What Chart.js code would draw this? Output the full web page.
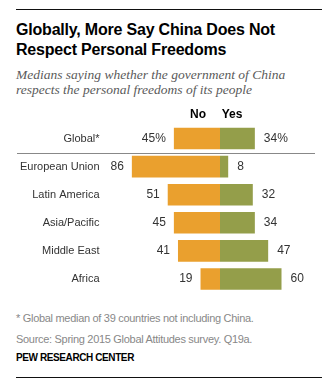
<!DOCTYPE html>
<html>
<head>
<meta charset="utf-8">
<script src="https://cdn.jsdelivr.net/npm/chart.js@4.4.1/dist/chart.umd.min.js"></script>
<style>
  body { margin: 0; background: #fff; }
  #wrap { position: relative; width: 336px; height: 388px; font-family: "Liberation Sans", Arial, sans-serif; color: #000; }
  .rule { position: absolute; left: 16px; width: 306px; height: 1px; background: #111; }
  #title { position: absolute; left: 16px; top: 20px; font-size: 16px; font-weight: bold; line-height: 20px; letter-spacing: -0.2px; }
  #subtitle { position: absolute; left: 16px; top: 68px; font-family: "Liberation Serif", serif; font-style: italic; font-size: 13.5px; line-height: 14.5px; color: #5a5a5a; }
  #chart { position: absolute; left: 0; top: 100px; }
  .note { position: absolute; left: 16px; font-size: 11px; color: #888; letter-spacing: -0.3px; }
  #credit { position: absolute; left: 16px; top: 352px; font-size: 10px; font-weight: bold; letter-spacing: -0.4px; }
</style>
</head>
<body>
<div id="wrap">
  <div class="rule" style="top:9px"></div>
  <div id="title">Globally, More Say China Does Not<br>Respect Personal Freedoms</div>
  <div id="subtitle">Medians saying whether the government of China<br>respects the personal freedoms of its people</div>
  <canvas id="chart" width="336" height="200"></canvas>
  <div class="note" style="top:312px">* Global median of 39 countries not including China.</div>
  <div class="note" style="top:333px">Source: Spring 2015 Global Attitudes survey. Q19a.</div>
  <div id="credit">PEW RESEARCH CENTER</div>
  <div class="rule" style="top:377px"></div>
</div>
<script>
const categories = ['Global*', 'European Union', 'Latin America', 'Asia/Pacific', 'Middle East', 'Africa'];
const noValues = [45, 86, 51, 45, 41, 19];
const yesValues = [34, 8, 32, 34, 47, 60];
const seriesNames = ['No', 'Yes'];

const orange = '#EAA02E';
const green = '#949E4A';

// numbers beside each bar, the No/Yes header and the rule under the global row
const barLabels = {
  id: 'barLabels',
  afterDatasetsDraw(chart) {
    const ctx = chart.ctx;
    const xs = chart.scales.x;
    const ys = chart.scales.y;
    ctx.save();
    ctx.textBaseline = 'middle';
    ctx.font = '12px "Liberation Sans"';
    ctx.fillStyle = '#333';
    chart.data.datasets.forEach((ds, di) => {
      const src = di === 0 ? noValues : yesValues;
      chart.getDatasetMeta(di).data.forEach((bar, i) => {
        const txt = src[i] + (i === 0 ? '%' : '');
        if (di === 0) {
          ctx.textAlign = 'right';
          ctx.fillText(txt, bar.x - 8, bar.y);
        } else {
          ctx.textAlign = 'left';
          ctx.fillText(txt, bar.x + 9, bar.y);
        }
      });
    });

    const zero = xs.getPixelForValue(0);
    ctx.font = 'bold 12px "Liberation Sans"';
    ctx.fillStyle = '#000';
    ctx.textAlign = 'center';
    ctx.fillText(seriesNames[0], zero - 22, 15);
    ctx.fillText(seriesNames[1], zero + 12, 15);

    const sep = Math.round((ys.getPixelForValue(0) + ys.getPixelForValue(1)) / 2) + 0.5;
    ctx.strokeStyle = '#888';
    ctx.lineWidth = 1;
    ctx.beginPath();
    ctx.moveTo(17, sep);
    ctx.lineTo(315, sep);
    ctx.stroke();
    ctx.restore();
  }
};

new Chart(document.getElementById('chart'), {
  type: 'bar',
  data: {
    labels: categories,
    datasets: [
      { label: seriesNames[0], data: noValues.map(v => -v), backgroundColor: orange },
      { label: seriesNames[1], data: yesValues, backgroundColor: green }
    ]
  },
  options: {
    indexAxis: 'y',
    responsive: false,
    animation: false,
    layout: { padding: { top: 24.5, bottom: 7, left: 0, right: 13.5 } },
    datasets: { bar: { barPercentage: 0.77, categoryPercentage: 1, borderWidth: 0 } },
    scales: {
      x: { display: false, stacked: true, min: -100, max: 100 },
      y: {
        stacked: true,
        grid: { display: false, drawTicks: false },
        border: { display: false },
        ticks: { padding: 18, color: '#333', font: { family: 'Liberation Sans', size: 11 } },
        afterFit(scale) {
          // fixed label column; keep tick padding from eating vertical space
          scale.width = 117.5;
          scale.paddingTop = 0;
          scale.paddingBottom = 0;
        }
      }
    },
    plugins: { legend: { display: false }, tooltip: { enabled: false } }
  },
  plugins: [barLabels]
});
</script>
</body>
</html>
